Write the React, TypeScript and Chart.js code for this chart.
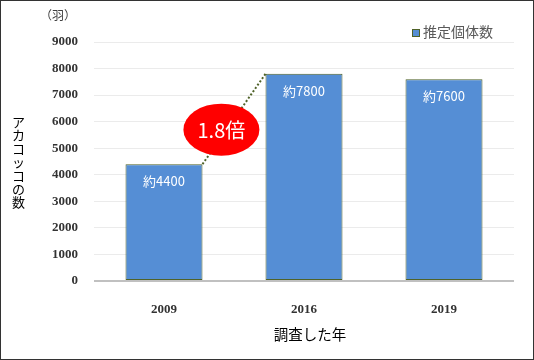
import React, { useEffect, useRef } from "react";
import { Chart, registerables } from "chart.js";

Chart.register(...registerables);

const categories = ["2009", "2016", "2019"];
const counts = [4400, 7800, 7600];
const valueLabels = ["約4400", "約7800", "約7600"];
const seriesName = "推定個体数";
const unitLabel = "（羽）";
const yTitle = "アカコッコの数";
const xTitle = "調査した年";
const ratioLabel = "1.8倍";
const ratioValue = 5700;
const yMax = 9000;
const yStep = 1000;

const JP = '"Noto Sans CJK JP", "Noto Sans", sans-serif';
const FILL = "#558ed5";
const EDGE = "#4f6228";

const decor = {
  id: "decor",
  afterDatasetsDraw(chart: any) {
    const ctx = chart.ctx;
    const meta = chart.getDatasetMeta(0);
    const bars = meta.data;
    const y = chart.scales.y;
    ctx.save();

    // value labels inside bars
    ctx.fillStyle = "#ffffff";
    ctx.font = `13px ${JP}`;
    ctx.textAlign = "center";
    ctx.textBaseline = "middle";
    bars.forEach((b: any, i: number) => {
      ctx.fillText(valueLabels[i], b.x, b.y + 17);
    });

    // dotted connector
    const b0 = bars[0];
    const b1 = bars[1];
    const x0 = b0.x + b0.width / 2;
    const x1 = b1.x - b1.width / 2;
    ctx.strokeStyle = EDGE;
    ctx.lineWidth = 2;
    ctx.setLineDash([2, 2]);
    ctx.beginPath();
    ctx.moveTo(x0, b0.y);
    ctx.lineTo(x1, b1.y);
    ctx.stroke();
    ctx.setLineDash([]);

    // red ellipse
    const cx = b0.x + (b1.x - b0.x) * 0.41;
    const cy = y.getPixelForValue(ratioValue);
    ctx.fillStyle = "#ff0000";
    ctx.beginPath();
    ctx.ellipse(cx, cy, 38, 26, 0, 0, Math.PI * 2);
    ctx.fill();
    ctx.fillStyle = "#ffffff";
    ctx.font = `20px ${JP}`;
    ctx.fillText(ratioLabel, cx, cy + 1);

    // legend
    ctx.fillStyle = FILL;
    ctx.fillRect(412.5, 29.5, 7, 7);
    ctx.strokeStyle = EDGE;
    ctx.lineWidth = 1;
    ctx.strokeRect(412.5, 29.5, 7, 7);
    ctx.fillStyle = "#595959";
    ctx.font = `14px ${JP}`;
    ctx.textAlign = "left";
    ctx.fillText(seriesName, 423, 32);

    // unit label
    ctx.fillStyle = "#404040";
    ctx.font = `12px ${JP}`;
    ctx.textAlign = "left";
    ctx.fillText(unitLabel, 40, 15);

    // vertical y title
    ctx.fillStyle = "#000000";
    ctx.font = `13px ${JP}`;
    ctx.textAlign = "center";
    const chars = Array.from(yTitle);
    chars.forEach((c, i) => {
      ctx.fillText(c, 18.5, 122 + i * 13.4);
    });

    // x title
    ctx.font = `14.5px ${JP}`;
    ctx.fillText(xTitle, 310, 334);

    // outer border
    ctx.strokeStyle = "#333333";
    ctx.lineWidth = 2;
    ctx.strokeRect(0, 0, 534, 360);
    ctx.restore();
  },
};

const tickFont = { family: '"Liberation Serif", serif', size: 13, weight: "bold" as const };

export default function App() {
  const ref = useRef<HTMLCanvasElement>(null);
  useEffect(() => {
    document.body.style.margin = "0";
    const chart = new Chart(ref.current!, {
      type: "bar",
      data: {
        labels: categories,
        datasets: [
          {
            label: seriesName,
            data: counts,
            backgroundColor: FILL,
            borderColor: EDGE,
            borderWidth: 1,
            borderSkipped: false,
            barPercentage: 0.55,
            categoryPercentage: 1,
          },
        ],
      },
      options: {
        responsive: false,
        animation: false,
        devicePixelRatio: 1,
        layout: { padding: { left: 0, top: 42, right: 20, bottom: 0 } },
        plugins: { legend: { display: false }, tooltip: { enabled: false } },
        scales: {
          x: {
            grid: { display: false },
            border: { display: false },
            ticks: {
              padding: 13,
              color: "#333333",
              font: tickFont,
            },
            afterFit: (s: any) => {
              s.height = 79;
            },
          },
          y: {
            min: 0,
            max: yMax,
            border: { display: false },
            grid: {
              drawTicks: false,
              color: (c: any) => (c.tick && c.tick.value === 0 ? "#c0c0c0" : "#ebebeb"),
              lineWidth: (c: any) => (c.tick && c.tick.value === 0 ? 2 : 1),
            },
            ticks: {
              stepSize: yStep,
              padding: 16,
              color: "#333333",
              font: tickFont,
              callback: (v: any) => String(v),
            },
            afterFit: (s: any) => {
              s.width = 94;
            },
          },
        },
      },
      plugins: [decor],
    });
    return () => chart.destroy();
  }, []);
  return <canvas ref={ref} width={534} height={360} style={{ display: "block" }} />;
}
